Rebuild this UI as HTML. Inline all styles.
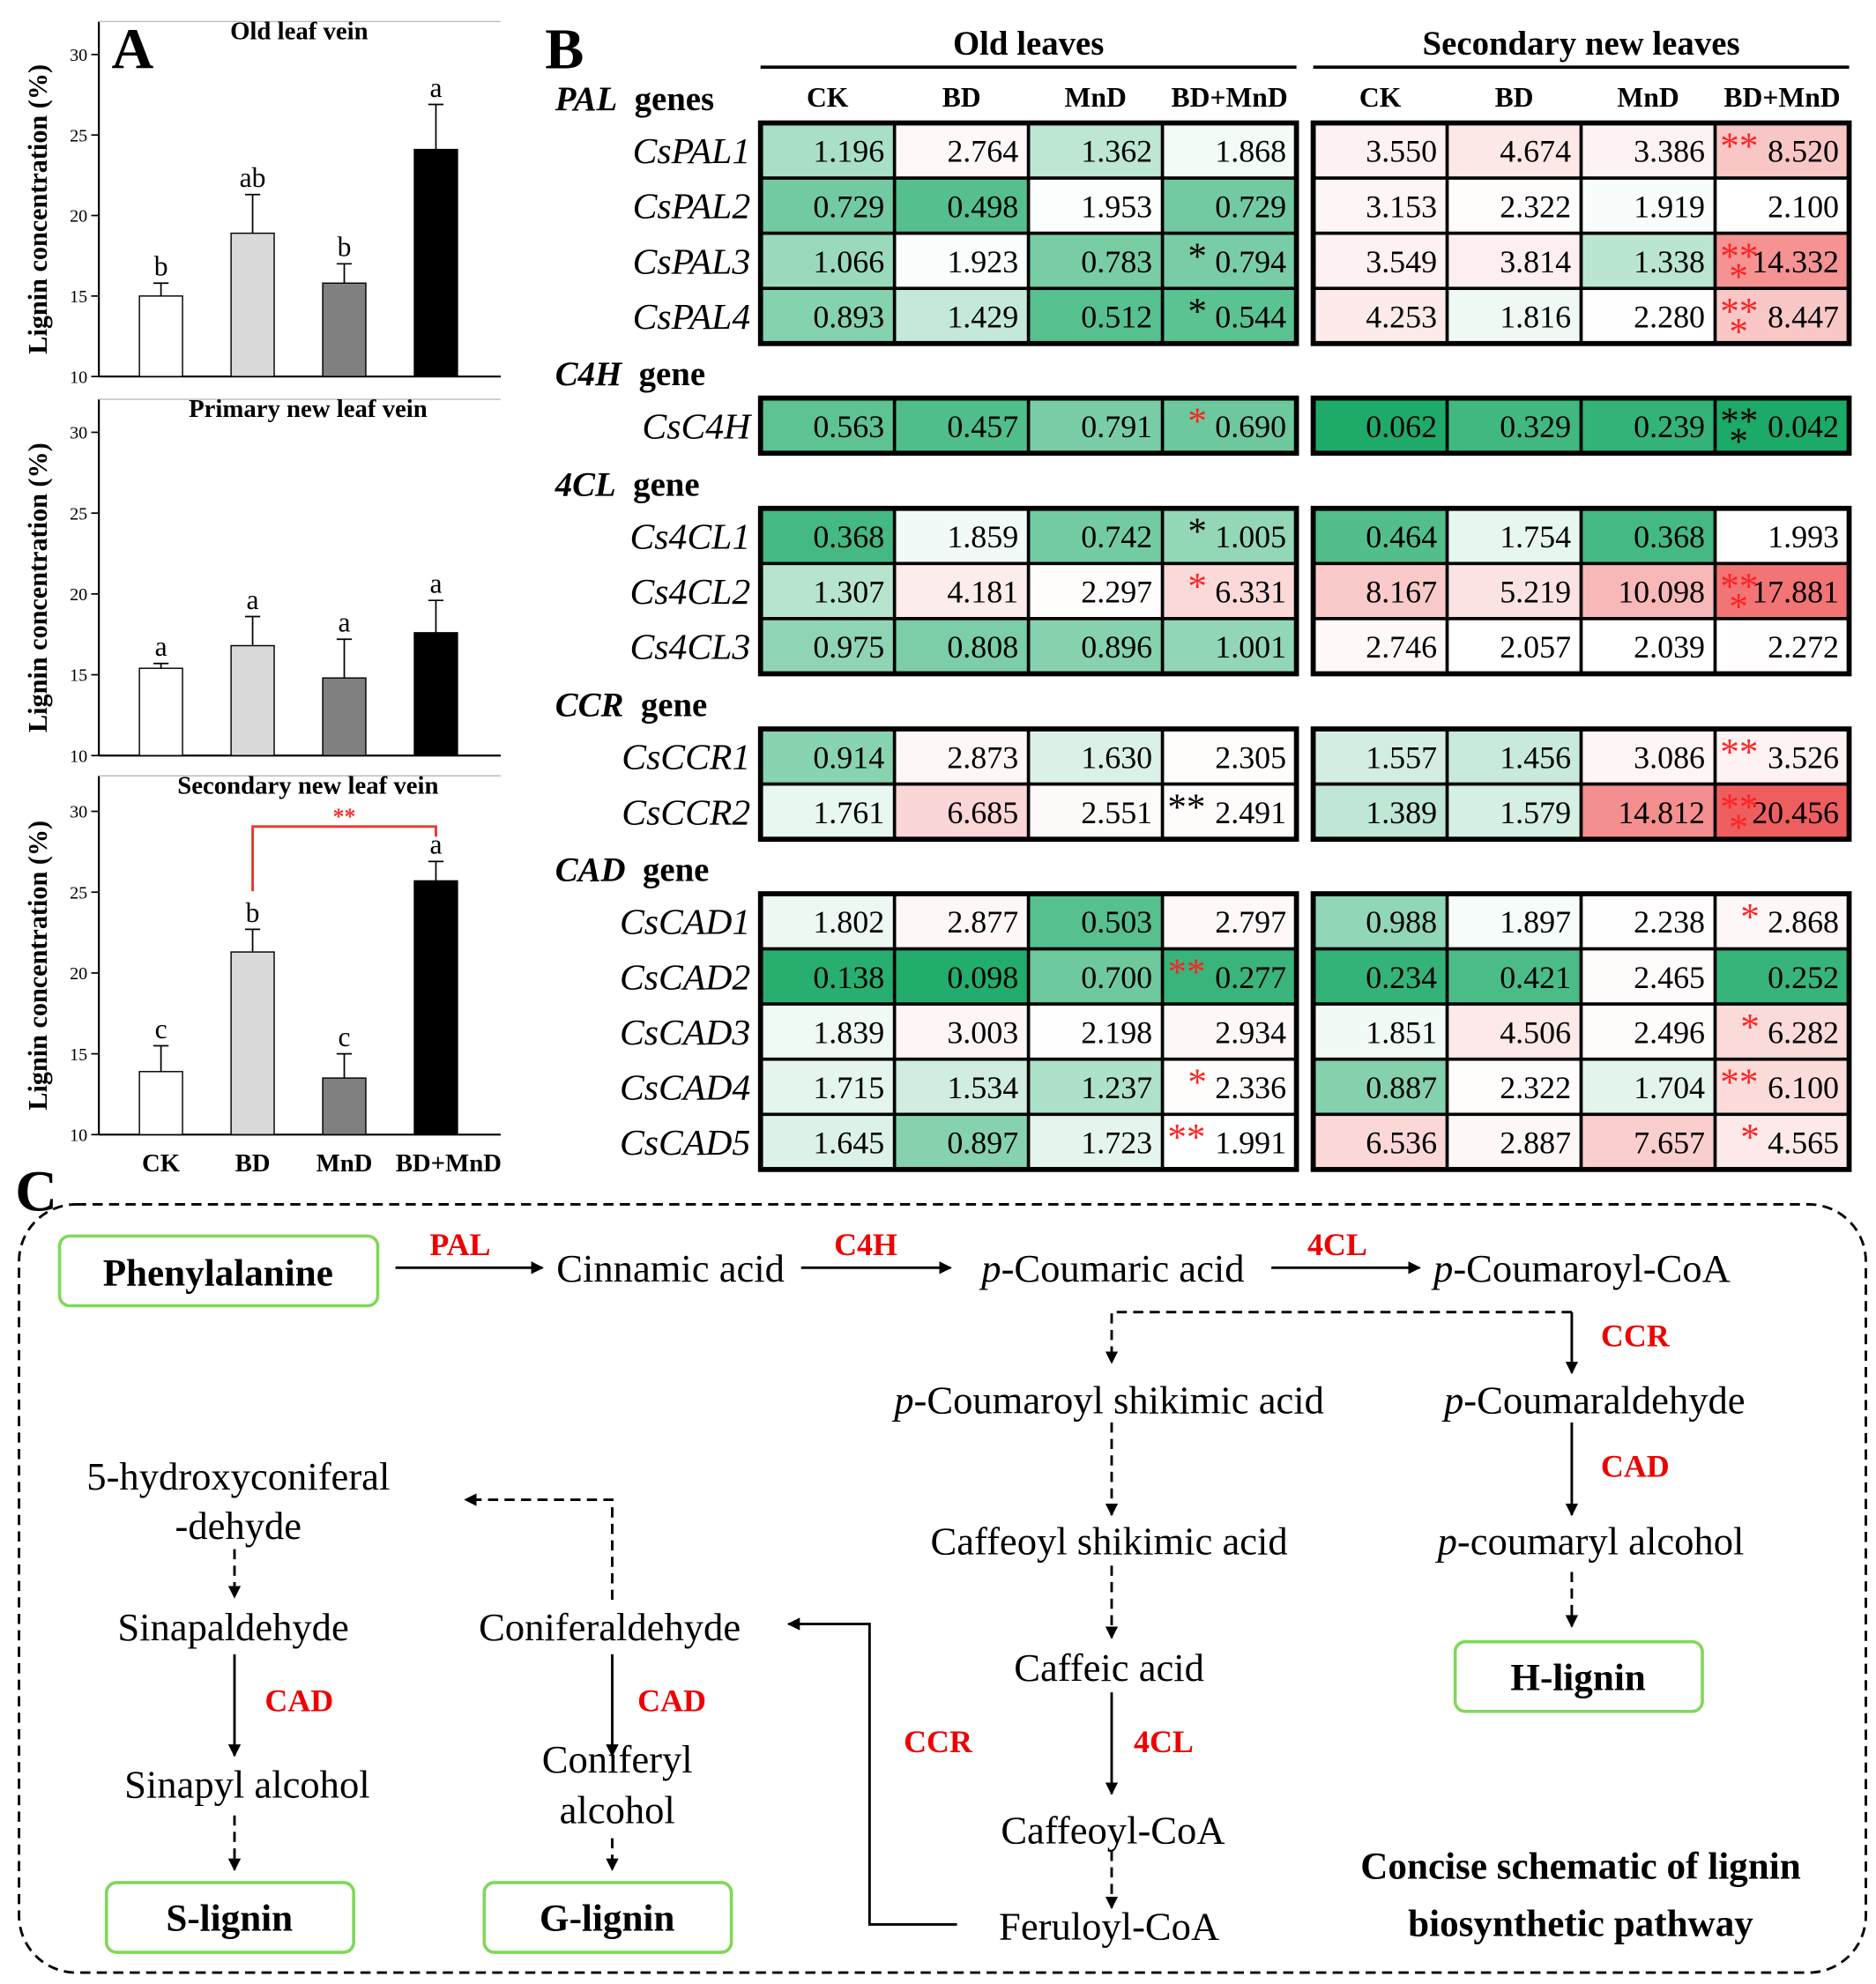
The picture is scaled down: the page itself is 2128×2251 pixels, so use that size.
<!DOCTYPE html>
<html><head><meta charset="utf-8"><style>
html,body{margin:0;padding:0;background:#fff}
svg{display:block}
text{font-family:"Liberation Serif","DejaVu Serif",serif}
</style></head><body>
<svg id="fig" xmlns="http://www.w3.org/2000/svg" width="2128" height="2251" viewBox="0 0 1480 1565" preserveAspectRatio="none" font-family="Liberation Serif, serif">
<defs>
<marker id="ah" markerWidth="10" markerHeight="10" refX="9" refY="5" orient="auto" markerUnits="userSpaceOnUse"><path d="M0,0 L10,5 L0,10 z" fill="#000"/></marker>
</defs>
<g id="panelA"></g>
<g id="panelB"></g>
<g id="panelC">
<text x="12" y="955" font-size="46" font-weight="bold">C</text>
<rect x="15" y="950" width="1457" height="606" rx="45" fill="none" stroke="#000" stroke-width="2" stroke-dasharray="8,5"/>
<g fill="none" stroke="#000" stroke-width="2">
<line x1="312" y1="1000" x2="428" y2="1000" marker-end="url(#ah)"/>
<line x1="632" y1="1000" x2="750" y2="1000" marker-end="url(#ah)"/>
<line x1="1003" y1="1000" x2="1120" y2="1000" marker-end="url(#ah)"/>
<polyline points="1240,1035 877,1035 877,1075" stroke-dasharray="8,5" marker-end="url(#ah)"/>
<line x1="1240" y1="1035" x2="1240" y2="1083" marker-end="url(#ah)"/>
<line x1="877" y1="1122" x2="877" y2="1195" stroke-dasharray="8,5" marker-end="url(#ah)"/>
<line x1="1240" y1="1122" x2="1240" y2="1195" marker-end="url(#ah)"/>
<line x1="877" y1="1235" x2="877" y2="1292" stroke-dasharray="8,5" marker-end="url(#ah)"/>
<line x1="1240" y1="1240" x2="1240" y2="1283" stroke-dasharray="8,5" marker-end="url(#ah)"/>
<line x1="877" y1="1335" x2="877" y2="1415" marker-end="url(#ah)"/>
<line x1="877" y1="1460" x2="877" y2="1505" stroke-dasharray="8,5" marker-end="url(#ah)"/>
<polyline points="755,1518 686,1518 686,1281 622,1281" marker-end="url(#ah)"/>
<polyline points="483,1262 483,1183 367,1183" stroke-dasharray="8,5" marker-end="url(#ah)"/>
<line x1="185" y1="1222" x2="185" y2="1260" stroke-dasharray="8,5" marker-end="url(#ah)"/>
<line x1="185" y1="1305" x2="185" y2="1385" marker-end="url(#ah)"/>
<line x1="185" y1="1432" x2="185" y2="1475" stroke-dasharray="8,5" marker-end="url(#ah)"/>
<line x1="483" y1="1305" x2="483" y2="1385" marker-end="url(#ah)"/>
<line x1="483" y1="1450" x2="483" y2="1475" stroke-dasharray="8,5" marker-end="url(#ah)"/>
</g>
<g fill="none" stroke="#7ed957" stroke-width="2.5">
<rect x="47" y="975" width="251" height="55" rx="8"/>
<rect x="1148" y="1295" width="195" height="55" rx="8"/>
<rect x="84" y="1485" width="195" height="55" rx="8"/>
<rect x="382" y="1485" width="195" height="55" rx="8"/>
</g>
<g font-size="31" text-anchor="middle" fill="#000">
<text x="172" y="1014" font-weight="bold" font-size="30">Phenylalanine</text>
<text x="529" y="1011">Cinnamic acid</text>
<text x="878" y="1011"><tspan font-style="italic">p</tspan>-Coumaric acid</text>
<text x="1248" y="1011"><tspan font-style="italic">p</tspan>-Coumaroyl-CoA</text>
<text x="875" y="1115"><tspan font-style="italic">p</tspan>-Coumaroyl shikimic acid</text>
<text x="1258" y="1115"><tspan font-style="italic">p</tspan>-Coumaraldehyde</text>
<text x="875" y="1226">Caffeoyl shikimic acid</text>
<text x="1255" y="1226"><tspan font-style="italic">p</tspan>-coumaryl alcohol</text>
<text x="875" y="1326">Caffeic acid</text>
<text x="1245" y="1333" font-weight="bold" font-size="30">H-lignin</text>
<text x="878" y="1454">Caffeoyl-CoA</text>
<text x="875" y="1530">Feruloyl-CoA</text>
<text x="481" y="1294">Coniferaldehyde</text>
<text x="188" y="1175">5-hydroxyconiferal</text>
<text x="188" y="1214">-dehyde</text>
<text x="184" y="1294">Sinapaldehyde</text>
<text x="195" y="1418">Sinapyl alcohol</text>
<text x="487" y="1398">Coniferyl</text>
<text x="487" y="1438">alcohol</text>
<text x="181" y="1523" font-weight="bold" font-size="30">S-lignin</text>
<text x="479" y="1523" font-weight="bold" font-size="30">G-lignin</text>
<text x="1247" y="1482" font-weight="bold" font-size="30">Concise schematic of lignin</text>
<text x="1247" y="1527" font-weight="bold" font-size="30">biosynthetic pathway</text>
</g>
<g font-size="25" font-weight="bold" fill="#e00" text-anchor="middle">
<text x="363" y="990">PAL</text><text x="683" y="990">C4H</text><text x="1055" y="990">4CL</text>
<text x="1290" y="1062">CCR</text><text x="1290" y="1165">CAD</text><text x="918" y="1382">4CL</text>
<text x="740" y="1382">CCR</text><text x="236" y="1350">CAD</text><text x="530" y="1350">CAD</text>
</g>
</g>
</svg>
<script>
// ---------- Panel A data ----------
const barCategories = ["CK","BD","MnD","BD+MnD"];
const chartTitles = ["Old leaf vein","Primary new leaf vein","Secondary new leaf vein"];
const oldVeinValues = [15.0,18.9,15.8,24.1];
const oldVeinErrors = [0.8,2.4,1.2,2.8];
const oldVeinLetters = ["b","ab","b","a"];
const primaryVeinValues = [15.4,16.8,14.8,17.6];
const primaryVeinErrors = [0.3,1.8,2.4,2.0];
const primaryVeinLetters = ["a","a","a","a"];
const secondaryVeinValues = [13.9,21.3,13.5,25.7];
const secondaryVeinErrors = [1.6,1.4,1.5,1.2];
const secondaryVeinLetters = ["c","b","c","a"];
const yTicks = [10,15,20,25,30];

// ---------- Panel B data ----------
const geneNames = ["CsPAL1","CsPAL2","CsPAL3","CsPAL4","CsC4H","Cs4CL1","Cs4CL2","Cs4CL3","CsCCR1","CsCCR2","CsCAD1","CsCAD2","CsCAD3","CsCAD4","CsCAD5"];
const geneGroups = [["PAL","genes",4],["C4H","gene",1],["4CL","gene",3],["CCR","gene",2],["CAD","gene",5]];
const treatments = ["CK","BD","MnD","BD+MnD"];
const oldLeafValues = [
[1.196,2.764,1.362,1.868],[0.729,0.498,1.953,0.729],[1.066,1.923,0.783,0.794],[0.893,1.429,0.512,0.544],
[0.563,0.457,0.791,0.690],
[0.368,1.859,0.742,1.005],[1.307,4.181,2.297,6.331],[0.975,0.808,0.896,1.001],
[0.914,2.873,1.630,2.305],[1.761,6.685,2.551,2.491],
[1.802,2.877,0.503,2.797],[0.138,0.098,0.700,0.277],[1.839,3.003,2.198,2.934],[1.715,1.534,1.237,2.336],[1.645,0.897,1.723,1.991]];
const newLeafValues = [
[3.550,4.674,3.386,8.520],[3.153,2.322,1.919,2.100],[3.549,3.814,1.338,14.332],[4.253,1.816,2.280,8.447],
[0.062,0.329,0.239,0.042],
[0.464,1.754,0.368,1.993],[8.167,5.219,10.098,17.881],[2.746,2.057,2.039,2.272],
[1.557,1.456,3.086,3.526],[1.389,1.579,14.812,20.456],
[0.988,1.897,2.238,2.868],[0.234,0.421,2.465,0.252],[1.851,4.506,2.496,6.282],[0.887,2.322,1.704,6.100],[6.536,2.887,7.657,4.565]];
const oldLeafStars = ["","","k*","k*","r*","k*","r*","","","k**","","r**","","r*","r**"];
const newLeafStars = ["r**","","r***","r***","k***","","r***","","r**","r***","r*","","r*","r**","r*"];

const NS="http://www.w3.org/2000/svg";
function mk(parent,tag,attrs,txt){const e=document.createElementNS(NS,tag);for(const k in attrs)e.setAttribute(k,attrs[k]);if(txt!==undefined)e.textContent=txt;parent.appendChild(e);return e;}

// ---------- Panel A ----------
const A=document.getElementById('panelA');
let t=mk(A,'text',{x:88,y:54,'font-size':46,'font-weight':'bold'},'A');


const charts=[
 {vals:oldVeinValues,errs:oldVeinErrors,lets:oldVeinLetters,top:17,y30:43,y10:297},
 {vals:primaryVeinValues,errs:primaryVeinErrors,lets:primaryVeinLetters,top:315,y30:341,y10:596},
 {vals:secondaryVeinValues,errs:secondaryVeinErrors,lets:secondaryVeinLetters,top:612,y30:640,y10:895}];
const barX = i => 127 + i*72.3;
const barFill=["#fff","#d9d9d9","#808080","#000"];
charts.forEach((c,ci)=>{
  const g=mk(A,'g',{});
  
  
  const y=v=>c.y10-(v-10)*(c.y10-c.y30)/20;
  mk(g,'line',{x1:78,y1:c.top,x2:78,y2:c.y10,stroke:'#000','stroke-width':1.5});
  mk(g,'line',{x1:78,y1:c.y10,x2:395,y2:c.y10,stroke:'#000','stroke-width':1.5});
  mk(g,'line',{x1:78,y1:c.top,x2:395,y2:c.top,stroke:'#bbb','stroke-width':1});
  yTicks.forEach(v=>{
    mk(g,'line',{x1:72,y1:y(v),x2:78,y2:y(v),stroke:'#000','stroke-width':1.2});
    const tl=mk(g,'text',{x:69,y:y(v)+5,'font-size':14,'text-anchor':'end'},String(v));
    
    
  });
  const yl=mk(g,'text',{x:0,y:0,'font-size':21,'font-weight':'bold','text-anchor':'middle',transform:`translate(37,${(c.top+c.y10)/2+8}) rotate(-90)`},'Lignin concentration (%)');
  
  
  const tt=mk(g,'text',{x:ci==0?236:243,y:c.top+14,'font-size':20,'font-weight':'bold','text-anchor':'middle'},chartTitles[ci]);
  
  
  c.vals.forEach((v,i)=>{
    const x=barX(i);
    const r=mk(g,'rect',{x:x-17,y:y(v),width:34,height:c.y10-y(v),fill:barFill[i],stroke:'#000','stroke-width':1});
    
    
    const ye=y(v+c.errs[i]);
    mk(g,'line',{x1:x,y1:y(v),x2:x,y2:ye,stroke:'#000','stroke-width':1.2});
    mk(g,'line',{x1:x-6,y1:ye,x2:x+6,y2:ye,stroke:'#000','stroke-width':1.2});
    const lt=mk(g,'text',{x:x,y:ye-6,'font-size':22,'text-anchor':'middle'},c.lets[i]);
    
    
  });
  if(ci==2){
    const xb=barX(1),xa=barX(3);
    const yb=y(c.vals[1]+c.errs[1])-30, ytop=y(30)+12;
    mk(g,'polyline',{points:`${xb},${yb} ${xb},${ytop} ${xa},${ytop} ${xa},${ytop+8}`,fill:'none',stroke:'#e33','stroke-width':2});
    const s=mk(g,'text',{x:(xb+xa)/2,y:ytop-2,'font-size':18,'font-weight':'bold',fill:'#e33','text-anchor':'middle'},'**');
    
    
  }
});
barCategories.forEach((n,i)=>{
  const xl=mk(A,'text',{x:barX(i)+(i==3?10:0),y:924,'font-size':20,'font-weight':'bold','text-anchor':'middle'},n);
  
  
});

// ---------- Panel B ----------
const B=document.getElementById('panelB');
t=mk(B,'text',{x:430,y:54,'font-size':46,'font-weight':'bold'},'B');


const blocks=[{x0:600,name:'Old leaves',vals:oldLeafValues,stars:oldLeafStars},{x0:1036,name:'Secondary new leaves',vals:newLeafValues,stars:newLeafStars}];
const colW=105.7, rowH=43.5;
const groupTops=[97,314,401,575,705];
function cellColor(v){
  if(v<=2){const s=Math.min(1,Math.pow((2-v)/2,1.1));const w=[255,255,255],g=[22,168,100];
    return `rgb(${w.map((a,i)=>Math.round(a+(g[i]-a)*s)).join(',')})`;}
  const s=Math.min(1,(v-2)/20);const w=[255,255,255],r=[238,80,80];
  return `rgb(${w.map((a,i)=>Math.round(a+(r[i]-a)*s)).join(',')})`;
}
const rowY=[];
geneGroups.forEach((gg,gi)=>{for(let k=0;k<gg[2];k++){rowY.push(groupTops[gi]+k*rowH);}
  const gl=mk(B,'text',{x:438,y:groupTops[gi]-10,'font-size':27,'font-weight':'bold'});
  
  
  mk(gl,'tspan',{'font-style':'italic'},gg[0]);
  mk(gl,'tspan',{},'\u00a0 '+gg[1]);
});
blocks.forEach((b,bi)=>{
  const hd=mk(B,'text',{x:b.x0+2*colW,y:43,'font-size':27,'font-weight':'bold','text-anchor':'middle'},b.name);
  
  
  mk(B,'line',{x1:b.x0,y1:53,x2:b.x0+4*colW,y2:53,stroke:'#000','stroke-width':2.5});
  treatments.forEach((tr,j)=>{
    const th=mk(B,'text',{x:b.x0+(j+0.5)*colW,y:84,'font-size':22,'font-weight':'bold','text-anchor':'middle'},tr);
    
    
  });
  b.vals.forEach((row,r)=>{
    row.forEach((v,j)=>{
      const x=b.x0+j*colW,y=rowY[r];
      const rc=mk(B,'rect',{x:x,y:y,width:colW,height:rowH,fill:cellColor(v),stroke:'#000','stroke-width':2.5});
      
      
      const vt=mk(B,'text',{x:x+colW-8,y:y+rowH/2+9,'font-size':25,'text-anchor':'end'},v.toFixed(3));
      
      
    });
    const st=b.stars[r];
    if(st){
      const col=st[0]=='r'?'#f22':'#000';const n=st.length-1;
      const x=b.x0+3*colW+4,y=rowY[r];
      const s1=mk(B,'text',{x:x+(n==1?16:0),y:y+28,'font-size':30,fill:col},n==1?'*':'**');
      
      
      if(n==3){const s2=mk(B,'text',{x:x+7,y:y+44,'font-size':30,fill:col},'*');
        
        }
    }
  });
  geneGroups.forEach((gg,gi)=>{
    mk(B,'rect',{x:b.x0,y:groupTops[gi],width:4*colW,height:gg[2]*rowH,fill:'none',stroke:'#000','stroke-width':4});
  });
});
geneNames.forEach((n,r)=>{
  const gt=mk(B,'text',{x:592,y:rowY[r]+rowH/2+10,'font-size':29,'font-style':'italic','text-anchor':'end'},n);
  
  
});
</script>
</body></html>
